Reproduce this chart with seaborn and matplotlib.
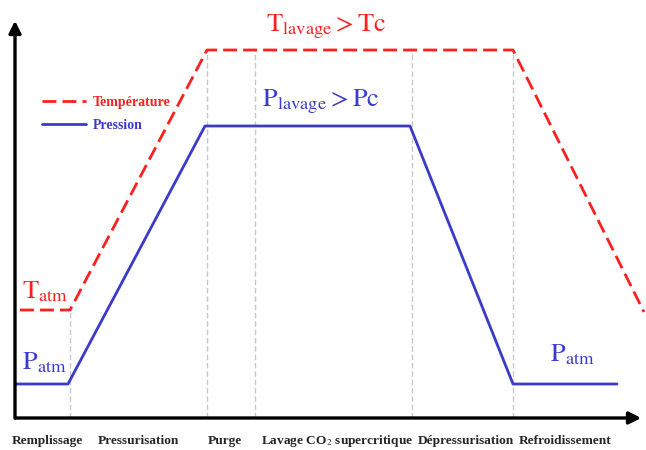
import pandas as pd
import matplotlib
matplotlib.use("Agg")
import matplotlib.pyplot as plt
import seaborn as sns

# curve points (x along the process, y = level)
temp_x = [20, 70, 207, 513, 644]
temp_y = [140, 140, 400, 400, 138]
press_x = [15, 68, 205, 410, 513, 617]
press_y = [66, 66, 324, 324, 66, 66]

# phase boundaries and their top ends
guide_x = [70, 207, 255, 412, 513]
guide_top = [140, 400, 400, 400, 400]

phases = ["Remplissage", "Pressurisation", "Purge",
          "Lavage CO$_2$ supercritique", "Dépressurisation", "Refroidissement"]
phase_x = [47, 138, 225, 337, 466, 565]

RED = "#ff1f1f"
BLUE = "#3a3acb"


def build_data():
    t = pd.DataFrame({"x": temp_x, "y": temp_y, "serie": "Température"})
    p = pd.DataFrame({"x": press_x, "y": press_y, "serie": "Pression"})
    return pd.concat([t, p], ignore_index=True)


def plot_graph(data):
    sns.set_theme(style="white")
    plt.rcParams["font.family"] = ["Liberation Serif", "DejaVu Serif"]
    plt.rcParams["mathtext.fontset"] = "stix"

    fig = plt.figure(figsize=(6.46, 4.5), dpi=100)
    ax = fig.add_axes([0, 0, 1, 1])
    ax.set_xlim(0, 646)
    ax.set_ylim(0, 450)
    ax.axis("off")

    # grey phase separators
    for gx, gt in zip(guide_x, guide_top):
        ax.plot([gx, gx], [32, gt], color="#c8c8c8", lw=1, ls=(0, (4, 2)), zorder=1)

    sns.lineplot(
        data=data, x="x", y="y", hue="serie", style="serie",
        palette={"Température": RED, "Pression": BLUE},
        dashes={"Température": (5, 2.2), "Pression": ""},
        sort=False, estimator=None, linewidth=2, ax=ax, zorder=3,
    )

    ax.legend(
        loc="upper left", bbox_to_anchor=(0.045, 0.815), frameon=False,
        handlelength=3.2, labelcolor="linecolor",
        prop={"weight": "bold", "size": 10}, handletextpad=0.5,
        labelspacing=0.75,
    )

    # axes with arrows
    ax.annotate("", xy=(15, 432), xytext=(15, 29),
                arrowprops=dict(arrowstyle="-|>", color="black", lw=2.4,
                                mutation_scale=18))
    ax.annotate("", xy=(644, 32), xytext=(13, 32),
                arrowprops=dict(arrowstyle="-|>", color="black", lw=2.4,
                                mutation_scale=18))

    ax.text(326, 423, r"$\mathrm{T_{lavage}} > \mathrm{Tc}$", color=RED,
            fontsize=19, ha="center", va="center")
    ax.text(321, 348, r"$\mathrm{P_{lavage}} > \mathrm{Pc}$", color=BLUE,
            fontsize=19, ha="center", va="center")
    ax.text(22, 158, r"$\mathrm{T_{atm}}$", color=RED, fontsize=19, va="center")
    ax.text(22, 87, r"$\mathrm{P_{atm}}$", color=BLUE, fontsize=19, va="center")
    ax.text(550, 95, r"$\mathrm{P_{atm}}$", color=BLUE, fontsize=19, va="center")

    for name, px in zip(phases, phase_x):
        ax.text(px, 9, name, ha="center", va="center", fontsize=9.6,
                fontweight="bold")

    fig.savefig("out.png", dpi=100)
    plt.close(fig)


def main():
    data = build_data()
    plot_graph(data)


if __name__ == "__main__":
    main()
